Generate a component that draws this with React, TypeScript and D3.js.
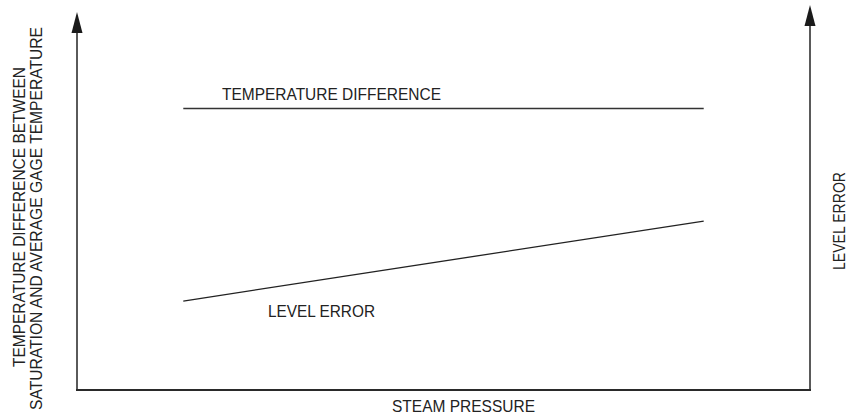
import React, { useRef, useEffect } from "react";
import * as d3 from "d3";

// steam pressure (relative, 0-100)
const pressure = [14.5, 85.5];
// temperature difference stays flat
const tempDiff = [74.7, 74.7];
// level error grows with pressure
const levelError = [23.6, 44.8];

const leftTitle = ["TEMPERATURE DIFFERENCE BETWEEN", "SATURATION AND AVERAGE GAGE TEMPERATURE"];
const rightTitle = "LEVEL ERROR";
const bottomTitle = "STEAM PRESSURE";

const width = 847;
const height = 417;

const App = () => {
  const ref = useRef<SVGSVGElement | null>(null);

  useEffect(() => {
    if (!ref.current) return;
    const svg = d3.select(ref.current);
    svg.selectAll("*").remove();

    const font = "'Liberation Sans', Arial, sans-serif";
    const x = d3.scaleLinear().domain([0, 100]).range([77, 810]);
    const y = d3.scaleLinear().domain([0, 100]).range([390, 13]);

    // arrowheads
    const arrow = (cx: number, tip: number) =>
      `M${cx},${tip} L${cx - 5.5},${tip + 21} L${cx + 5.5},${tip + 21} Z`;

    // axes
    svg.append("line")
      .attr("x1", x(0)).attr("x2", x(0))
      .attr("y1", y(0) + 1).attr("y2", 28)
      .attr("stroke", "#5a5a5a").attr("stroke-width", 2);
    svg.append("path").attr("d", arrow(x(0), 12)).attr("fill", "#1a1a1a");

    svg.append("line")
      .attr("x1", x(100)).attr("x2", x(100))
      .attr("y1", y(0) + 1).attr("y2", 22)
      .attr("stroke", "#5a5a5a").attr("stroke-width", 2);
    svg.append("path").attr("d", arrow(x(100), 5)).attr("fill", "#1a1a1a");

    svg.append("line")
      .attr("x1", x(0) - 1).attr("x2", x(100) + 1)
      .attr("y1", y(0)).attr("y2", y(0))
      .attr("stroke", "#2a2a2a").attr("stroke-width", 2);

    // series lines
    const line = d3.line<number>()
      .x((_, i) => x(pressure[i]));

    svg.append("path")
      .attr("d", line.y((d) => y(d))(tempDiff))
      .attr("fill", "none").attr("stroke", "#333").attr("stroke-width", 1.5);

    svg.append("path")
      .attr("d", line.y((d) => y(d))(levelError))
      .attr("fill", "none").attr("stroke", "#222").attr("stroke-width", 1.3);

    // labels
    const g = svg.append("g")
      .attr("font-family", font)
      .attr("font-size", 16.5)
      .attr("fill", "#222");

    g.append("text")
      .attr("x", 222).attr("y", 100)
      .attr("textLength", 219).attr("lengthAdjust", "spacingAndGlyphs")
      .text("TEMPERATURE DIFFERENCE");

    g.append("text")
      .attr("x", 268).attr("y", 317)
      .attr("textLength", 107).attr("lengthAdjust", "spacingAndGlyphs")
      .text("LEVEL ERROR");

    g.append("text")
      .attr("x", 392).attr("y", 412)
      .attr("textLength", 143).attr("lengthAdjust", "spacingAndGlyphs")
      .text(bottomTitle);

    const leftLen = [300, 383];
    leftTitle.forEach((t, i) => {
      g.append("text")
        .attr("transform", `translate(${25 + i * 17},${i === 0 ? 367 : 410}) rotate(-90)`)
        .attr("textLength", leftLen[i]).attr("lengthAdjust", "spacingAndGlyphs")
        .text(t);
    });

    g.append("text")
      .attr("transform", `translate(845,270) rotate(-90)`)
      .attr("textLength", 98).attr("lengthAdjust", "spacingAndGlyphs")
      .text(rightTitle);
  }, []);

  return <svg ref={ref} width={width} height={height} style={{ display: "block", position: "absolute", left: 0, top: 0 }} />;
};

export default App;
